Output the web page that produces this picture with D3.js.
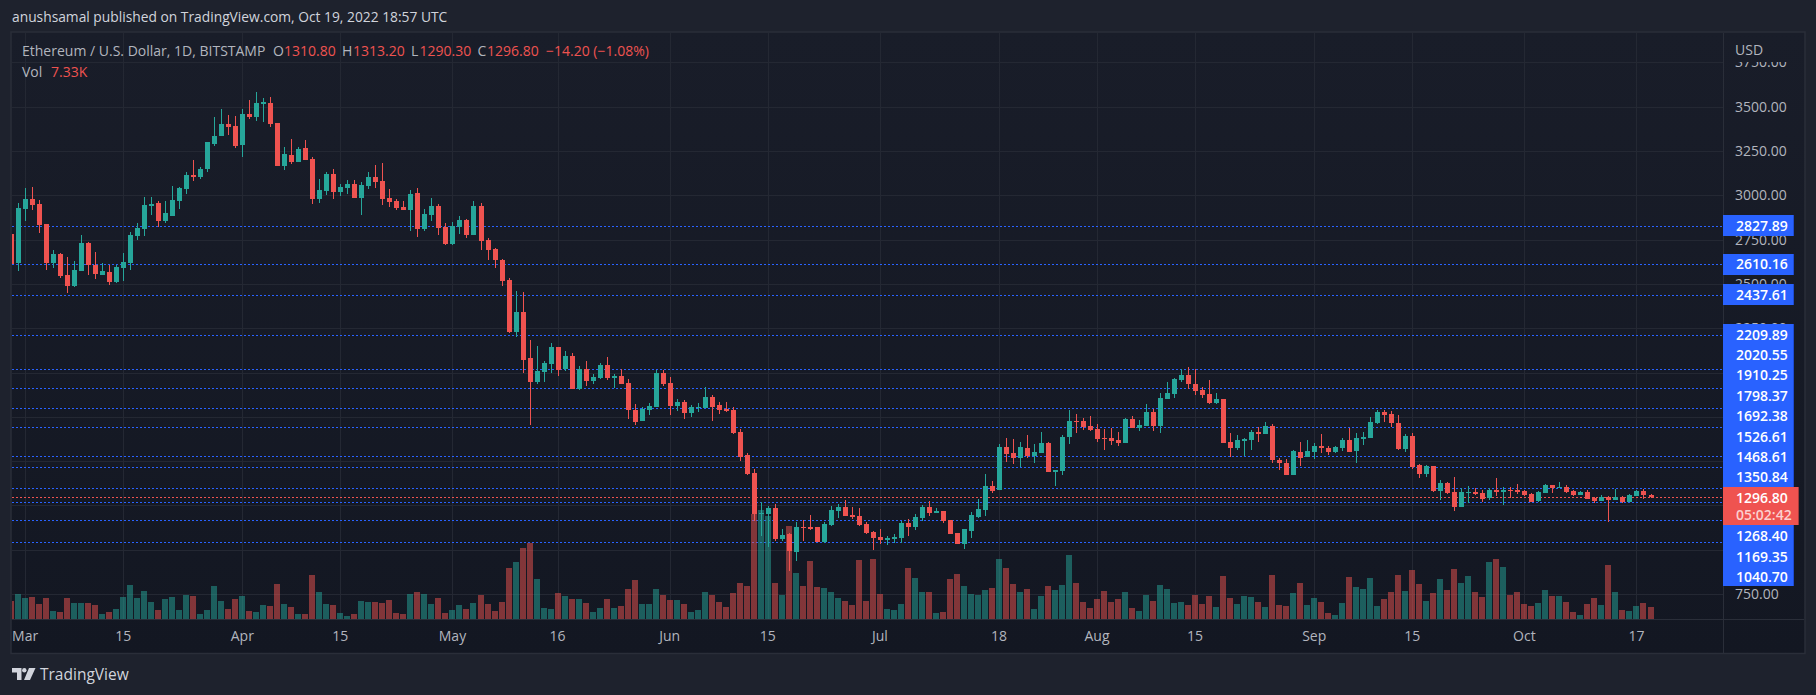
<!DOCTYPE html>
<html>
<head>
<meta charset="utf-8">
<script src="https://cdn.jsdelivr.net/npm/d3@7"></script>
<style>
  html, body { margin: 0; padding: 0; background: #1e222d; overflow: hidden; }
  text { font-family: "Open Sans", sans-serif; font-size: 14px; }
</style>
</head>
<body>
<div id="chart"></div>
<script>
// daily ETH/USD candles, 27 Feb to 19 Oct 2022
var firstDay = new Date(Date.UTC(2022, 1, 27));
var lastDay = new Date(Date.UTC(2022, 9, 19));

var opens = [
  2782,2618,2923,2979,2951,2838,2618,2669,2550,2488,
  2573,2731,2607,2550,2567,2511,2590,2618,2770,2810,
  2939,2956,2855,2883,2968,3035,3114,3103,3148,3289,
  3335,3402,3391,3284,3459,3442,3515,3521,3408,3165,
  3227,3188,3267,3205,2979,3024,3120,3019,3041,3064,
  2985,3052,3103,3081,2985,2968,2934,2917,3013,2810,
  2889,2939,2821,2725,2821,2861,2776,2939,2748,2697,
  2635,2522,2229,2341,2081,1946,2002,2048,2143,2019,
  2093,1906,2019,1952,1969,2042,1969,1980,1941,1788,
  1726,1788,1805,1997,1941,1811,1834,1772,1800,1800,
  1862,1817,1794,1788,1664,1534,1433,1202,1202,1235,
  1060,1089,987,1128,1128,1128,1044,1140,1219,1241,
  1196,1190,1145,1100,1072,1055,1061,1066,1151,1128,
  1179,1241,1207,1219,1168,1094,1032,1106,1185,1224,
  1360,1337,1580,1546,1518,1574,1529,1546,1602,1439,
  1444,1636,1726,1726,1698,1681,1630,1630,1619,1602,
  1738,1687,1698,1777,1698,1851,1879,1958,1986,1935,
  1901,1879,1828,1851,1608,1574,1614,1619,1664,1653,
  1698,1506,1489,1422,1551,1523,1551,1585,1574,1551,
  1574,1619,1557,1625,1630,1715,1777,1766,1715,1568,
  1642,1478,1427,1472,1331,1376,1326,1241,1320,1326,
  1320,1292,1337,1326,1337,1337,1331,1314,1275,1320,
  1365,1348,1354,1331,1309,1326,1292,1275,1298,1281,
  1298,1269,1303,1331,1310.8
];
var highs = [
  2785,2955,3041,3047,2973,2838,2691,2672,2652,2629,
  2776,2736,2680,2618,2607,2607,2674,2793,2844,2990,
  2990,2968,2968,3052,3047,3131,3199,3160,3301,3442,
  3487,3453,3447,3487,3538,3583,3549,3555,3408,3272,
  3318,3272,3312,3216,3092,3131,3148,3064,3086,3086,
  3075,3131,3171,3182,3035,2979,2968,3030,3041,2923,
  2985,2951,2844,2849,2883,2866,2968,2956,2759,2703,
  2640,2533,2460,2454,2183,2149,2064,2166,2143,2121,
  2110,2036,2064,1991,2053,2088,1992,2020,1963,1822,
  1805,1828,2014,2014,1975,1851,1845,1817,1828,1918,
  1873,1834,1834,1805,1681,1546,1456,1267,1247,1258,
  1117,1096,1156,1168,1196,1128,1156,1247,1258,1281,
  1241,1235,1156,1106,1117,1078,1089,1162,1173,1202,
  1252,1275,1235,1219,1168,1094,1117,1213,1286,1427,
  1388,1597,1630,1625,1608,1647,1597,1664,1608,1450,
  1647,1788,1766,1743,1755,1709,1681,1687,1664,1743,
  1755,1732,1822,1794,1884,1946,1969,2020,2031,2020,
  1918,1958,1884,1851,1659,1647,1630,1676,1692,1721,
  1709,1518,1512,1563,1608,1619,1602,1653,1585,1585,
  1630,1687,1659,1664,1749,1788,1788,1783,1760,1653,
  1659,1484,1478,1472,1393,1382,1410,1348,1360,1348,
  1337,1348,1405,1354,1354,1371,1337,1320,1331,1371,
  1365,1382,1365,1337,1331,1337,1298,1309,1303,1343,
  1303,1314,1337,1343,1313.2
];
var lows = [
  2603,2575,2855,2917,2787,2578,2590,2533,2449,2482,
  2573,2550,2528,2550,2494,2503,2516,2578,2748,2770,
  2889,2821,2844,2883,2923,3007,3081,3092,3131,3278,
  3335,3340,3267,3216,3430,3419,3414,3385,3165,3143,
  3177,3188,3199,2951,2956,3002,2979,2996,3007,2985,
  2889,3035,3041,2945,2934,2917,2917,2798,2765,2798,
  2855,2776,2719,2719,2782,2759,2776,2691,2635,2590,
  2488,2223,2200,1997,1703,1935,1946,1997,1980,2008,
  1906,1901,1923,1935,1963,1958,1913,1935,1738,1704,
  1726,1760,1805,1924,1760,1783,1738,1749,1777,1800,
  1726,1766,1777,1653,1501,1422,1162,1078,1015,1049,
  1049,880,936,1049,1111,1044,1040,1134,1179,1190,
  1173,1134,1089,998,1032,1027,1038,1038,1078,1111,
  1162,1190,1207,1151,1089,1032,1004,1066,1179,1190,
  1320,1337,1495,1484,1467,1518,1489,1546,1439,1360,
  1422,1597,1659,1676,1670,1608,1563,1591,1585,1602,
  1687,1670,1698,1670,1659,1851,1856,1946,1907,1873,
  1856,1822,1822,1602,1523,1563,1529,1563,1608,1653,
  1489,1450,1422,1422,1472,1523,1512,1546,1534,1546,
  1557,1551,1489,1591,1630,1709,1721,1692,1563,1551,
  1456,1405,1410,1326,1281,1314,1219,1241,1264,1309,
  1269,1281,1303,1252,1292,1314,1303,1269,1269,1320,
  1320,1348,1320,1303,1309,1286,1264,1275,1156,1281,
  1264,1269,1303,1286,1290.3
];
var closes = [
  2610,2928,2979,2945,2832,2618,2669,2545,2488,2578,
  2731,2607,2556,2573,2511,2595,2624,2776,2815,2945,
  2951,2855,2900,2973,3041,3114,3103,3148,3301,3335,
  3402,3385,3278,3459,3442,3521,3526,3402,3165,3233,
  3188,3261,3199,2979,3030,3120,3019,3047,3064,2985,
  3058,3103,3075,2979,2962,2928,2917,3007,2810,2894,
  2939,2815,2725,2827,2861,2776,2939,2742,2691,2635,
  2516,2229,2341,2070,1946,2008,2053,2143,2014,2093,
  1906,2019,1952,1974,2042,1969,1980,1935,1788,1721,
  1794,1811,1997,1935,1811,1834,1772,1805,1805,1862,
  1805,1788,1783,1659,1523,1427,1202,1205,1235,1060,
  1083,993,1128,1122,1115,1044,1145,1224,1241,1190,
  1185,1140,1094,1066,1055,1066,1072,1151,1128,1185,
  1241,1207,1219,1162,1089,1032,1117,1196,1230,1360,
  1331,1580,1540,1518,1580,1529,1551,1602,1439,1450,
  1636,1726,1721,1692,1676,1625,1625,1614,1602,1738,
  1687,1704,1777,1698,1856,1884,1963,1986,1935,1896,
  1873,1828,1851,1602,1574,1619,1625,1664,1653,1698,
  1506,1489,1422,1557,1518,1557,1585,1574,1551,1580,
  1619,1551,1630,1636,1721,1777,1760,1715,1568,1642,
  1465,1427,1472,1331,1376,1320,1241,1326,1326,1314,
  1286,1337,1326,1337,1331,1326,1309,1269,1326,1365,
  1348,1354,1326,1309,1326,1286,1275,1298,1281,1298,
  1269,1309,1331,1309,1296.8
];
// volume in thousands
var volumes = [
  11.1,15.0,12.7,13.3,9.1,12.7,5.0,4.4,12.7,9.7,
  9.7,9.7,8.5,3.2,4.4,6.1,13.3,20.4,12.7,16.8,
  10.3,5.5,12.1,13.3,5.5,14.5,13.9,3.2,5.5,19.8,
  10.9,6.1,12.1,13.9,5.0,4.4,8.5,7.9,21.0,9.1,
  7.3,3.2,3.2,26.3,16.2,9.1,8.5,3.8,2.0,3.2,
  10.9,10.3,10.3,9.7,11.5,3.8,3.2,15.0,16.2,15.0,
  9.1,12.7,3.8,5.5,8.5,6.1,9.7,14.5,9.1,5.0,
  10.3,30.5,34.1,42.4,45.3,24.0,6.7,6.1,15.6,13.9,
  12.1,12.1,9.7,4.4,6.7,12.1,6.7,7.9,18.0,23.4,
  9.1,9.1,18.0,14.5,11.5,11.5,9.1,4.4,5.5,16.2,
  14.5,10.3,7.3,15.6,21.6,19.8,63.0,65.5,61.4,21.6,
  14.5,56.0,27.5,19.8,34.7,19.2,18.6,16.2,12.7,10.9,
  8.5,35.2,10.9,35.8,15.0,6.1,5.5,9.1,30.5,24.6,
  16.2,16.2,3.8,4.4,24.0,26.9,19.8,15.0,14.5,17.4,
  18.6,35.8,30.5,21.0,16.2,18.0,6.1,13.9,19.8,17.4,
  20.4,38.2,21.6,10.3,6.7,12.1,16.8,10.3,12.1,16.2,
  6.7,5.0,14.5,10.9,20.4,18.0,9.7,10.3,8.5,14.5,
  9.1,13.9,7.3,25.7,12.7,9.1,13.9,13.3,10.3,7.3,
  26.3,8.5,7.9,15.6,21.6,8.5,12.7,10.3,3.8,2.6,
  9.7,25.1,19.2,18.0,24.6,7.9,12.1,16.2,26.3,16.8,
  29.3,21.0,10.9,15.6,24.0,17.4,29.9,21.6,25.7,16.2,
  13.3,34.1,35.8,31.1,14.5,16.2,9.1,7.9,9.7,17.4,
  13.9,13.9,10.3,4.4,2.6,9.1,12.7,8.5,32.3,16.2,
  5.5,5.0,7.9,9.7,7.33
];

var priceTicks = [750,1000,1250,1500,1750,2000,2250,2500,2750,3000,3250,3500,3750];
// the others sit fully behind the blue flags
var priceTickLabels = [750,2250,2500,2750,3000,3250,3500,3750];
var timeTickDates = ["2022-03-01","2022-03-15","2022-04-01","2022-04-15","2022-05-01","2022-05-16","2022-06-01","2022-06-15","2022-07-01","2022-07-18","2022-08-01","2022-08-15","2022-09-01","2022-09-15","2022-10-01","2022-10-17"];
var timeTickLabels = ["Mar","15","Apr","15","May","16","Jun","15","Jul","18","Aug","15","Sep","15","Oct","17"];
// horizontal levels, the ones that sit alone on the axis first
var levelsFree = [2827.89, 2610.16, 2437.61];
var levelsStackedTop = [2209.89, 2020.55, 1910.25, 1798.37, 1692.38, 1526.61, 1468.61, 1350.84];
var levelsStackedBottom = [1268.40, 1169.35, 1040.70];
var lastPrice = 1296.80;
var countdown = "05:02:42";

var W = 1816, H = 695;
var left = 12, top_ = 33, right = 1723, outerRight = 1804, plotBottom = 619.5, bottom = 652.5;
var red = "#ef5350", green = "#26a69a", blue = "#2962ff";
var gridColor = "#242833", borderColor = "#2a2e39";

var svg = d3.select("#chart").append("svg").attr("width", W).attr("height", H).style("display", "block");

var defs = svg.append("defs");
var grad = defs.append("linearGradient").attr("id", "paneBg").attr("x1", 0).attr("x2", 0).attr("y1", 0).attr("y2", 1);
grad.append("stop").attr("offset", "0%").attr("stop-color", "#191d29");
grad.append("stop").attr("offset", "100%").attr("stop-color", "#131722");
defs.append("clipPath").attr("id", "plotClip").append("rect")
  .attr("x", left).attr("y", top_).attr("width", right - left).attr("height", plotBottom - top_);
defs.append("clipPath").attr("id", "axisClip").append("rect")
  .attr("x", right).attr("y", 62).attr("width", outerRight - right).attr("height", plotBottom - 62);

var x = d3.scaleUtc().domain([firstDay, lastDay]).range([11.1, 1650.5]);
var y = d3.scaleLinear().domain([750, 3500]).range([594, 106.7]);
// 7.33K is about 12.3px tall
var yVol = d3.scaleLinear().domain([0, 7.33]).range([plotBottom, plotBottom - 12.3]);
var days = opens.map(function (d, i) { return d3.utcDay.offset(firstDay, i); });
var parseDay = d3.utcParse("%Y-%m-%d");

//pane
svg.append("rect").attr("x", left - 1).attr("y", top_ - 1)
  .attr("width", outerRight - left + 2).attr("height", bottom - top_ + 2)
  .attr("fill", "url(#paneBg)").attr("stroke", borderColor).attr("stroke-width", 1.5);

var grid = svg.append("g").attr("shape-rendering", "crispEdges");
grid.selectAll(".h").data(priceTicks).enter().append("line")
  .attr("x1", left).attr("x2", right)
  .attr("y1", function (d) { return Math.round(y(d)) + 0.5; })
  .attr("y2", function (d) { return Math.round(y(d)) + 0.5; })
  .attr("stroke", gridColor);
grid.selectAll(".v").data(timeTickDates).enter().append("line")
  .attr("x1", function (d) { return Math.round(x(parseDay(d))) + 0.5; })
  .attr("x2", function (d) { return Math.round(x(parseDay(d))) + 0.5; })
  .attr("y1", top_).attr("y2", plotBottom)
  .attr("stroke", gridColor);

//dotted levels
var allLevels = levelsFree.concat(levelsStackedTop, levelsStackedBottom);
var levels = svg.append("g").attr("clip-path", "url(#plotClip)").attr("shape-rendering", "crispEdges");
levels.selectAll("line").data(allLevels).enter().append("line")
  .attr("x1", left).attr("x2", right)
  .attr("y1", function (d) { return Math.round(y(d)) + 0.5; })
  .attr("y2", function (d) { return Math.round(y(d)) + 0.5; })
  .attr("stroke", blue).attr("stroke-dasharray", "2 2");
levels.append("line")
  .attr("x1", left).attr("x2", right)
  .attr("y1", Math.round(y(lastPrice)) + 0.5).attr("y2", Math.round(y(lastPrice)) + 0.5)
  .attr("stroke", red).attr("stroke-dasharray", "2 2");

var marks = svg.append("g").attr("clip-path", "url(#plotClip)").attr("shape-rendering", "crispEdges");

//volume
marks.selectAll(".vol").data(volumes).enter().append("rect")
  .attr("x", function (d, i) { return Math.round(x(days[i])) - 3; })
  .attr("width", 6)
  .attr("y", function (d) { return yVol(d); })
  .attr("height", function (d) { return plotBottom - yVol(d); })
  .attr("fill", function (d, i) { return closes[i] >= opens[i] ? green : red; })
  .attr("opacity", 0.5);

//wicks and bodies
marks.selectAll(".wick").data(opens).enter().append("rect")
  .attr("x", function (d, i) { return Math.round(x(days[i])); })
  .attr("width", 1)
  .attr("y", function (d, i) { return y(highs[i]); })
  .attr("height", function (d, i) { return y(lows[i]) - y(highs[i]); })
  .attr("fill", function (d, i) { return closes[i] >= opens[i] ? green : red; });
marks.selectAll(".body").data(opens).enter().append("rect")
  .attr("x", function (d, i) { return Math.round(x(days[i])) - 2; })
  .attr("width", 5)
  .attr("y", function (d, i) { return y(Math.max(opens[i], closes[i])); })
  .attr("height", function (d, i) { return Math.max(1, Math.abs(y(opens[i]) - y(closes[i]))); })
  .attr("fill", function (d, i) { return closes[i] >= opens[i] ? green : red; });

//axis lines
var axisLines = svg.append("g").attr("stroke", borderColor).attr("shape-rendering", "crispEdges");
axisLines.append("line").attr("x1", left).attr("x2", outerRight).attr("y1", plotBottom).attr("y2", plotBottom);
axisLines.append("line").attr("x1", right + 0.5).attr("x2", right + 0.5).attr("y1", top_).attr("y2", bottom);

//time labels
svg.append("g").selectAll("text").data(timeTickDates).enter().append("text")
  .attr("x", function (d) { return x(parseDay(d)); })
  .attr("y", 641)
  .attr("text-anchor", "middle")
  .attr("fill", "#b2b5be")
  .text(function (d, i) { return timeTickLabels[i]; });

//price ticks, the blue flags cover part of some of them later
svg.append("g").attr("clip-path", "url(#axisClip)").selectAll("text").data(priceTickLabels).enter().append("text")
  .attr("x", 1735).attr("y", function (d) { return y(d) + 5; })
  .attr("fill", "#b2b5be")
  .text(function (d) { return d3.format(".2f")(d); });
svg.append("text").attr("x", 1735).attr("y", 55).attr("fill", "#b2b5be").text("USD");

function drawFlag(top, h, fill, edge, w) {
  svg.append("rect").attr("x", right).attr("y", top).attr("width", w).attr("height", h).attr("fill", edge).attr("shape-rendering", "crispEdges");
  svg.append("rect").attr("x", right).attr("y", top).attr("width", w - 1).attr("height", h).attr("fill", fill).attr("shape-rendering", "crispEdges");
}
function flagText(txt, cy, color) {
  svg.append("text").attr("x", 1736).attr("y", cy + 5).attr("fill", color || "#fff").attr("font-weight", 600).text(txt);
}

levelsFree.forEach(function (d) {
  drawFlag(y(d) - 10.5, 21, blue, "#1e4bd1", 71);
  flagText(d3.format(".2f")(d), y(d));
});

// the crowded labels stack up from here
var stackTop = 324, rowH = 20.4;
drawFlag(stackTop, 585.7 - stackTop, blue, "#1e4bd1", 71);
levelsStackedTop.forEach(function (d, i) {
  flagText(d3.format(".2f")(d), stackTop + 10.5 + i * rowH);
});
var redTop = stackTop + levelsStackedTop.length * rowH;
drawFlag(redTop, 38, red, "#a33b3a", 76);
flagText(d3.format(".2f")(lastPrice), redTop + 11);
flagText(countdown, redTop + 28, "#fbd0cf");
levelsStackedBottom.forEach(function (d, i) {
  flagText(d3.format(".2f")(d), redTop + 38 + 11 + i * rowH);
});

//legend
var legend = svg.append("g");
legend.append("text").attr("x", 22).attr("y", 56).attr("fill", "#b2b5be").text("Ethereum / U.S. Dollar, 1D, BITSTAMP");
var ohlc = [["O", 273, 284, 1310.80], ["H", 342, 353, 1313.20], ["L", 411, 419.5, 1290.30], ["C", 477.5, 487, 1296.80]];
ohlc.forEach(function (d) {
  legend.append("text").attr("x", d[1]).attr("y", 56).attr("fill", "#b2b5be").text(d[0]);
  legend.append("text").attr("x", d[2]).attr("y", 56).attr("fill", red).text(d3.format(".2f")(d[3]));
});
legend.append("text").attr("x", 546).attr("y", 56).attr("fill", red).text("\u221214.20 (\u22121.08%)");
legend.append("text").attr("x", 22).attr("y", 77).attr("fill", "#b2b5be").text("Vol");
legend.append("text").attr("x", 51).attr("y", 77).attr("fill", red).text("7.33K");

//header and footer
svg.append("text").attr("x", 12).attr("y", 22).attr("fill", "#d1d4dc").style("font-size", "13.8px").text("anushsamal published on TradingView.com, Oct 19, 2022 18:57 UTC");
var logo = svg.append("g").attr("fill", "#d1d4dc").attr("transform", "translate(12,668)");
logo.append("path").attr("d", "M0,0H9.5V12H5V4.5H0Z");
logo.append("circle").attr("cx", 12.3).attr("cy", 2.2).attr("r", 2.2);
logo.append("path").attr("d", "M17,0H23.5L18,12H12Z");
svg.append("text").attr("x", 40).attr("y", 680).attr("fill", "#d1d4dc").style("font-size", "15.5px").text("TradingView");
</script>
</body>
</html>
